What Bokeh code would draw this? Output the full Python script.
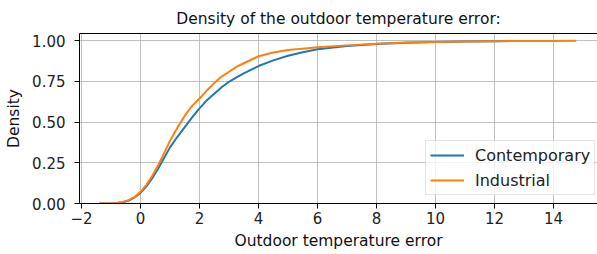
from bokeh.plotting import figure
from bokeh.models import Range1d, FixedTicker, Legend, LegendItem, LinearAxis
from bokeh.embed import file_html
from bokeh.resources import INLINE

# Data (cumulative density)
contemporary_x = [-1.4, -1.2, -1.0, -0.8, -0.6, -0.4, -0.2, 0.0, 0.2, 0.4, 0.6, 0.8, 1.0, 1.25, 1.5,
                  1.75, 2.0, 2.25, 2.5, 2.75, 3.0, 3.25, 3.5, 4.0, 4.5, 5.0, 5.5, 6.0, 7.0, 8.0,
                  9.0, 10.0, 11.0, 12.0, 12.68]
contemporary_y = [0.0, 0.0005, 0.001, 0.003, 0.008, 0.018, 0.037, 0.065, 0.105, 0.155, 0.215, 0.28,
                  0.345, 0.41, 0.47, 0.53, 0.585, 0.635, 0.675, 0.715, 0.748, 0.775, 0.80, 0.845,
                  0.88, 0.908, 0.93, 0.948, 0.968, 0.98, 0.988, 0.993, 0.996, 0.998, 0.999]

industrial_x = [-1.4, -1.2, -1.0, -0.8, -0.6, -0.4, -0.2, 0.0, 0.2, 0.4, 0.6, 0.8, 1.0, 1.25, 1.5,
                1.75, 2.0, 2.25, 2.5, 2.75, 3.0, 3.25, 3.5, 4.0, 4.5, 5.0, 5.5, 6.0, 7.0, 8.0,
                9.0, 10.0, 11.0, 12.0, 13.0, 14.0, 14.77]
industrial_y = [0.0, 0.0005, 0.001, 0.003, 0.009, 0.02, 0.04, 0.072, 0.115, 0.17, 0.235, 0.31,
                0.385, 0.465, 0.54, 0.60, 0.645, 0.695, 0.74, 0.78, 0.81, 0.84, 0.862, 0.905,
                0.928, 0.943, 0.952, 0.96, 0.972, 0.982, 0.989, 0.993, 0.996, 0.998, 0.999,
                0.9995, 1.0]

x_ticks = [-2, 0, 2, 4, 6, 8, 10, 12, 14]
y_ticks = [0.0, 0.25, 0.5, 0.75, 1.0]
y_tick_labels = ["0.00", "0.25", "0.50", "0.75", "1.00"]

FONT = "DejaVu Sans"
BLUE = "#1f77b4"
ORANGE = "#ff7f0e"

p = figure(width=597, height=254, output_backend="svg", toolbar_location=None,
           x_range=Range1d(-2.068, 15.49), y_range=Range1d(0.0, 1.045),
           title="Density of the outdoor temperature error:",
           min_border_left=79, min_border_right=0, min_border_top=33, min_border_bottom=51)

p.title.align = "center"
p.title.text_font = FONT
p.title.text_font_size = "15.5px"
p.title.text_font_style = "normal"
p.title.text_color = "#111111"
p.title.standoff = 11

p.outline_line_color = None
p.background_fill_color = "white"
p.border_fill_color = "white"

# lines
r1 = p.line(contemporary_x, contemporary_y, line_color=BLUE, line_width=2)
r2 = p.line(industrial_x, industrial_y, line_color=ORANGE, line_width=2)

# axes styling
for ax in (p.xaxis[0], p.yaxis[0]):
    ax.axis_line_color = "#000000"
    ax.axis_line_width = 1
    ax.major_tick_line_color = "#000000"
    ax.major_tick_in = 0
    ax.major_tick_out = 5
    ax.minor_tick_line_color = None
    ax.major_label_text_font = FONT
    ax.major_label_text_font_size = "15px"
    ax.major_label_text_color = "#222222"
    ax.axis_label_text_font = FONT
    ax.axis_label_text_font_size = "15.5px"
    ax.axis_label_text_font_style = "normal"
    ax.axis_label_text_color = "#111111"

p.xaxis[0].ticker = FixedTicker(ticks=x_ticks)
p.xaxis[0].major_label_overrides = {t: (("\u2212" + str(-t)) if t < 0 else str(t)) for t in x_ticks}
p.xaxis[0].axis_label = "Outdoor temperature error"
p.xaxis[0].major_label_standoff = 3
p.xaxis[0].axis_label_standoff = 5

p.yaxis[0].ticker = FixedTicker(ticks=y_ticks)
p.yaxis[0].major_label_overrides = dict(zip(y_ticks, y_tick_labels))
p.yaxis[0].axis_label = "Density"
p.yaxis[0].major_label_standoff = 9
p.yaxis[0].axis_label_standoff = 6

# top spine
top = LinearAxis(ticker=FixedTicker(ticks=[]), axis_line_color="#000000", axis_line_width=1,
                 major_tick_line_color=None, minor_tick_line_color=None,
                 major_label_text_font_size="0px")
p.add_layout(top, "above")

# grid
p.xgrid.ticker = FixedTicker(ticks=x_ticks)
p.ygrid.ticker = FixedTicker(ticks=y_ticks)
for g in (p.xgrid[0], p.ygrid[0]):
    g.grid_line_color = "#b0b0b0"
    g.grid_line_width = 1
    g.grid_line_alpha = 0.8

legend = Legend(items=[LegendItem(label="Contemporary", renderers=[r1]),
                       LegendItem(label="Industrial", renderers=[r2])],
                location=(346, 8))
legend.label_text_font = FONT
legend.label_text_font_size = "16px"
legend.label_text_color = "#222222"
legend.glyph_width = 34
legend.glyph_height = 20
legend.label_height = 20
legend.label_standoff = 11
legend.spacing = 5
legend.padding = 4
legend.margin = 0
legend.border_line_color = "#cccccc"
legend.border_line_width = 1
legend.background_fill_alpha = 0.8
p.add_layout(legend, "center")

open("out.html", "w").write(file_html(p, INLINE))
